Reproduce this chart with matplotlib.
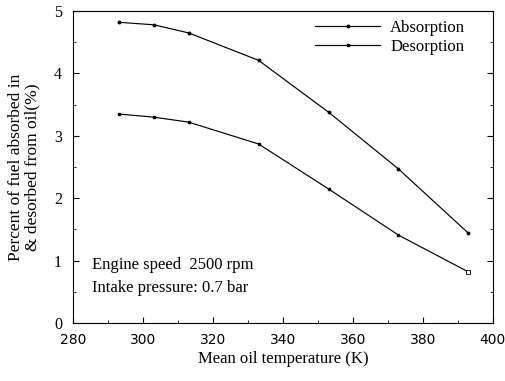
import numpy as np
import matplotlib.pyplot as plt
from matplotlib.ticker import MultipleLocator

TEMPS = [293, 303, 313, 333, 353, 373, 393]
ABSORPTION = [4.82, 4.78, 4.65, 4.21, 3.38, 2.47, 1.44]
DESORPTION = [3.35, 3.30, 3.22, 2.87, 2.15, 1.41, 0.82]

plt.rcParams['font.family'] = ['Liberation Serif', 'DejaVu Serif']

fig = plt.figure(figsize=(5.05, 3.81), dpi=100)
ax = fig.add_axes([0.145, 0.152, 0.831, 0.819])

ax.plot(TEMPS, ABSORPTION, color='black', lw=0.85, marker='o', ms=1.8,
        label='Absorption')
ax.plot(TEMPS, DESORPTION, color='black', lw=0.85, marker='s', ms=1.6,
        label='Desorption')
ax.plot(TEMPS[-1], DESORPTION[-1], marker='s', ms=3.2, mfc='white',
        mec='black', mew=0.6, ls='none')

ax.set_xlim(280, 400)
ax.set_ylim(0, 5)
ax.xaxis.set_major_locator(MultipleLocator(20))
ax.xaxis.set_minor_locator(MultipleLocator(10))
ax.yaxis.set_major_locator(MultipleLocator(1))
ax.yaxis.set_minor_locator(MultipleLocator(0.5))
ax.tick_params(which='both', direction='in', top=False, right=True)
ax.tick_params(which='major', length=4, labelsize=11.5)
ax.tick_params(which='minor', length=2.5)
ax.tick_params(axis='x', pad=7)
ax.tick_params(axis='y', pad=8)
for lab in ax.get_xticklabels():
    lab.set_family('DejaVu Sans')
    lab.set_fontsize(10)

ax.set_xlabel('Mean oil temperature (K)', fontsize=12, labelpad=3)
ax.set_ylabel('Percent of fuel absorbed in\n& desorbed from oil(%)',
              fontsize=12.5, labelpad=10, linespacing=1.0)

ax.text(285.5, 0.93, 'Engine speed  2500 rpm', fontsize=12, va='center')
ax.text(285.5, 0.56, 'Intake pressure: 0.7 bar', fontsize=12, va='center')

ax.legend(loc='upper right', frameon=False, fontsize=12, handlelength=3.9,
          labelspacing=0.2, handletextpad=0.6,
          bbox_to_anchor=(0.97, 1.02))

fig.savefig('out.png', dpi=100)
